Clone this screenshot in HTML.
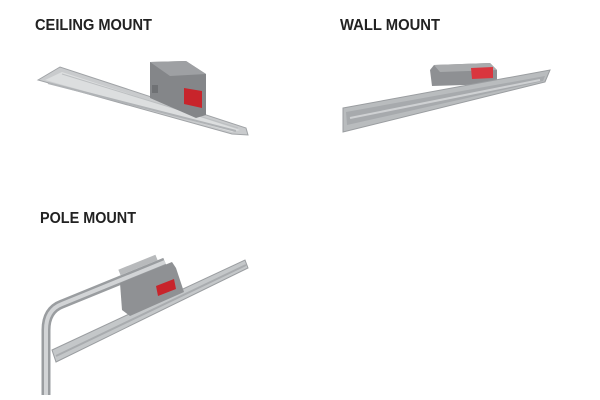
<!DOCTYPE html>
<html><head><style>html,body{margin:0;padding:0;background:#fff;width:600px;height:400px;overflow:hidden}</style></head>
<body>
<svg width="600" height="400" viewBox="0 0 600 400" xmlns="http://www.w3.org/2000/svg">
<g font-family="Liberation Sans Narrow, Liberation Sans, sans-serif" font-weight="bold" font-size="16" fill="#222">
<text x="35" y="30" textLength="117" lengthAdjust="spacingAndGlyphs">CEILING MOUNT</text>
<text x="340" y="30" textLength="100" lengthAdjust="spacingAndGlyphs">WALL MOUNT</text>
<text x="40" y="223" textLength="96" lengthAdjust="spacingAndGlyphs">POLE MOUNT</text>
</g>
<!-- Ceiling -->
<polygon points="38,80 60,67 246,128 248,135 232,134" fill="#c9cbcd" stroke="#a0a3a6" stroke-width="1"/>
<polygon points="45,80 62,72 240,130 232,132" fill="#dcdedf"/>
<line x1="48" y1="83" x2="236" y2="131" stroke="#b0b3b6" stroke-width="2"/>
<line x1="62" y1="74" x2="238" y2="128" stroke="#bcbfc1" stroke-width="1"/>
<polygon points="150,62 186,61 206,74 206,115 196,118 150,98" fill="#848689"/>
<polygon points="150,62 186,61 206,74 170,76" fill="#9ea0a3"/>
<rect x="152" y="85" width="6" height="8" fill="#6f7174"/>
<polygon points="184,88 202,91 202,108 184,104" fill="#c8242b"/>
<!-- Wall -->
<polygon points="430,70 434,65 490,63 497,70 497,84 432,86" fill="#8e9093"/>
<polygon points="434,65 490,63 497,70 440,72" fill="#a9abad"/>
<polygon points="471,68 493,67 493,78 472,79" fill="#d9363e"/>
<polygon points="343,108 550,70 545,82 343,132" fill="#b9bcbe" stroke="#9a9da0" stroke-width="1"/>
<polygon points="346,112 545,76 543,81 347,125" fill="#a7aaad"/>
<line x1="350" y1="118" x2="540" y2="80" stroke="#cfd1d3" stroke-width="2"/>
<!-- Pole -->
<path d="M46,395 L46,330 Q46,310 62,304 L165,262" fill="none" stroke="#9a9da0" stroke-width="9"/>
<path d="M46,395 L46,330 Q46,310 62,304 L165,262" fill="none" stroke="#d2d4d6" stroke-width="4"/>
<polygon points="52,350 245,260 248,268 56,362" fill="#c4c7c9" stroke="#9a9da0" stroke-width="1"/>
<line x1="56" y1="356" x2="246" y2="265" stroke="#a9acaf" stroke-width="2"/>
<polygon points="120,283 172,262 176,268 184,292 130,316 122,310" fill="#8f9194"/>
<polygon points="156,286 174,279 176,289 158,296" fill="#c8242b"/>
<rect x="118" y="262" width="40" height="6" fill="#b8babc" transform="rotate(-22 138 265)"/>
</svg>
</body></html>
